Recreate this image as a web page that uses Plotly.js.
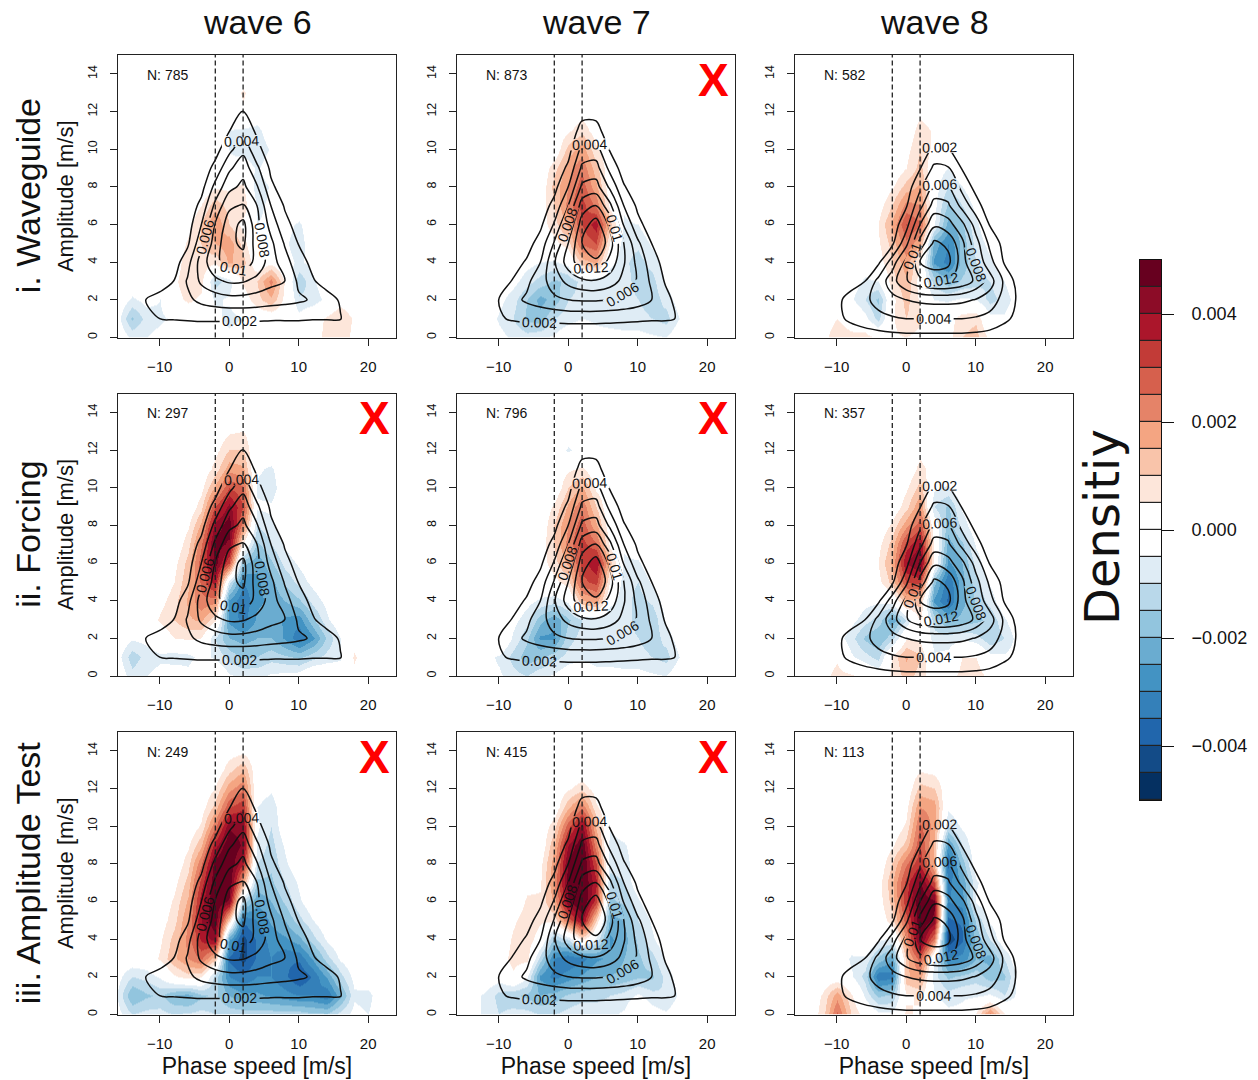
<!DOCTYPE html>
<html><head><meta charset="utf-8">
<script src="https://cdn.plot.ly/plotly-3.0.1.min.js"></script>
<style>html,body{margin:0;padding:0;background:#fff;}#chart{width:1258px;height:1080px;}</style>
</head><body><div id="chart"></div>
<script>
// ---- grid (phase speed, amplitude) ----
const xGrid = [-16,-14,-12,-10,-8,-6,-4,-2,0,2,4,6,8,10,12,14,16,18,20,22];
const yGrid = [0,1,2,3,4,5,6,7,8,9,10,11,12,13,14];
const UNIT = 0.001; // all grids below are in units of 0.001

const waveTitles = ['wave 6','wave 7','wave 8'];
const rowTitles = ['i. Waveguide','ii. Forcing','iii. Amplitude Test'];
const nCounts = [[785,873,582],[297,796,357],[249,415,113]];
const rejected = [[false,true,false],[true,true,false],[true,true,false]];
const dashedSpeeds = [-2, 2];
const contourStart = 0.002, contourEnd = 0.016, contourStep = 0.002;
const colorEdges = [-0.005,-0.0045,-0.004,-0.0035,-0.003,-0.0025,-0.002,-0.0015,-0.001,-0.0005,0,0.0005,0.001,0.0015,0.002,0.0025,0.003,0.0035,0.004,0.0045,0.005];
const binColors = ['#053061','#134b87','#2166ac','#3480b9','#4393c3','#6aacd0','#92c5de','#b9d8ea','#dfecf5','#ffffff',
                   '#ffffff','#fde6da','#f9c4aa','#f4a582','#e58368','#d6604d','#c23b37','#ab162b','#8c0c27','#67001f'];
const colorbarTicks = [-0.004,-0.002,0,0.002,0.004];

// ---- climatological density (black contours), per wave ----
const densityW6 = [
[0,0,0.2,0.3,0.3,0.3,0.3,0.3,0.3,0.3,0.3,0.3,0.3,0.3,0.3,0.3,0.3,0.1,0,0],
[0,0.5,1.9,2.0,2.1,2.2,2.3,2.3,2.3,2.3,2.3,2.2,2.2,2.2,2.1,2.1,2.1,0.6,0.1,0],
[0,0.6,2.0,2.5,3.0,3.6,4.5,5.0,5.3,5.3,5.1,4.8,4.6,4.3,3.8,2.8,1.8,0.5,0.1,0],
[0,0.2,0.7,1.3,2.0,4.2,6.4,7.6,8.3,8.2,7.4,6.6,6.0,3.6,2.2,1.2,0.6,0.2,0,0],
[0,0.1,0.3,0.7,1.0,3.2,7.0,9.5,10.9,11.2,9.4,7.0,4.8,2.8,1.5,0.7,0.3,0,0,0],
[0,0,0.1,0.3,0.7,1.6,5.4,9.0,11.5,12.4,9.0,6.5,3.8,1.9,0.9,0.4,0.1,0,0,0],
[0,0,0,0.1,0.4,1.0,4.0,8.2,11.0,12.6,8.6,5.2,2.6,1.2,0.5,0.2,0,0,0,0],
[0,0,0,0,0.2,0.6,2.6,6.5,9.6,10.2,8.0,4.0,1.8,0.8,0.3,0.1,0,0,0,0],
[0,0,0,0,0.1,0.4,1.3,4.6,7.4,8.5,6.2,2.4,1.0,0.4,0.1,0,0,0,0,0],
[0,0,0,0,0,0.2,0.7,2.6,5.6,7.2,4.4,1.6,0.6,0.2,0,0,0,0,0,0],
[0,0,0,0,0,0.1,0.3,1.2,3.4,5.4,2.6,0.8,0.3,0.1,0,0,0,0,0,0],
[0,0,0,0,0,0,0.1,0.5,1.9,3.4,1.6,0.4,0.1,0,0,0,0,0,0,0],
[0,0,0,0,0,0,0,0.2,1.0,2.1,0.8,0.2,0,0,0,0,0,0,0,0],
[0,0,0,0,0,0,0,0,0.3,0.8,0.3,0,0,0,0,0,0,0,0,0],
[0,0,0,0,0,0,0,0,0.1,0.2,0.1,0,0,0,0,0,0,0,0,0]];
const densityW7 = [
[0,0,0.1,0.3,0.4,0.4,0.4,0.4,0.4,0.4,0.4,0.4,0.4,0.4,0.4,0.4,0.3,0.1,0,0],
[0,0,0.3,1.8,2.2,2.4,2.4,2.5,2.6,2.6,2.6,2.5,2.4,2.3,2.2,2.2,1.9,0.5,0,0],
[0,0,0.3,2.0,3.4,4.3,5.0,5.6,6.0,6.2,6.2,6.0,5.6,5.0,4.0,2.6,1.2,0.3,0,0],
[0,0,0.1,0.9,2.1,3.5,5.2,7.0,8.6,9.6,9.8,9.0,7.4,5.8,3.6,1.8,0.6,0.1,0,0],
[0,0,0,0.4,1.2,2.2,4.0,7.8,11.0,13.2,13.5,11.4,8.2,5.4,3.0,1.2,0.3,0,0,0],
[0,0,0,0.1,0.5,1.2,2.8,6.2,10.0,14.0,16.0,13.0,8.0,4.4,2.0,0.7,0.1,0,0,0],
[0,0,0,0,0.2,0.6,1.6,4.2,8.2,13.0,15.0,11.5,5.8,2.6,1.0,0.4,0,0,0,0],
[0,0,0,0,0,0.3,0.9,2.6,6.0,11.0,12.0,8.5,4.0,1.6,0.5,0.1,0,0,0,0],
[0,0,0,0,0,0.1,0.4,1.4,4.0,8.4,8.8,5.6,2.2,0.7,0.2,0,0,0,0,0],
[0,0,0,0,0,0,0.1,0.6,2.4,6.4,6.8,3.4,1.0,0.3,0,0,0,0,0,0],
[0,0,0,0,0,0,0,0.2,1.2,4.6,4.8,1.8,0.4,0,0,0,0,0,0,0],
[0,0,0,0,0,0,0,0,0.5,2.8,2.8,0.6,0,0,0,0,0,0,0,0],
[0,0,0,0,0,0,0,0,0.1,1.2,1.2,0.2,0,0,0,0,0,0,0,0],
[0,0,0,0,0,0,0,0,0,0.3,0.3,0,0,0,0,0,0,0,0,0],
[0,0,0,0,0,0,0,0,0,0,0,0,0,0,0,0,0,0,0,0]];
const densityW8 = [
[0,0,0.1,0.3,0.6,0.9,1.1,1.3,1.4,1.4,1.4,1.4,1.4,1.3,1.1,0.7,0.3,0.1,0,0],
[0,0,0.4,1.5,2.4,3.0,3.5,3.8,4.0,4.0,4.0,4.0,4.0,3.8,3.4,2.5,1.5,0.3,0,0],
[0,0,0.4,1.6,2.6,3.6,4.6,5.4,6.0,6.4,6.6,6.6,6.4,5.9,5.0,3.4,1.8,0.3,0,0],
[0,0,0.1,0.6,1.3,1.9,4.6,7.2,9.8,11.5,12.2,12.2,11.4,9.6,7.0,3.8,1.3,0.2,0,0],
[0,0,0,0.2,0.5,1.0,1.6,5.0,8.6,14.0,15.2,14.6,11.0,7.6,4.8,2.0,0.6,0.1,0,0],
[0,0,0,0,0.1,0.3,0.8,1.6,5.4,10.8,14.4,13.6,10.6,6.8,3.6,1.4,0.3,0,0,0],
[0,0,0,0,0,0.1,0.4,1.0,3.2,8.0,11.6,10.8,8.6,5.2,1.9,0.5,0.1,0,0,0],
[0,0,0,0,0,0,0.1,0.5,1.8,5.4,8.8,8.4,5.4,2.8,0.8,0.2,0,0,0,0],
[0,0,0,0,0,0,0,0.2,0.9,3.6,6.6,6.4,3.4,1.4,0.3,0,0,0,0,0],
[0,0,0,0,0,0,0,0,0.4,1.9,4.4,4.2,1.9,0.5,0,0,0,0,0,0],
[0,0,0,0,0,0,0,0,0,0.8,2.4,2.2,0.7,0,0,0,0,0,0,0],
[0,0,0,0,0,0,0,0,0,0.2,0.9,0.8,0.2,0,0,0,0,0,0,0],
[0,0,0,0,0,0,0,0,0,0,0.2,0.2,0,0,0,0,0,0,0,0],
[0,0,0,0,0,0,0,0,0,0,0,0,0,0,0,0,0,0,0,0],
[0,0,0,0,0,0,0,0,0,0,0,0,0,0,0,0,0,0,0,0]];

// ---- density differences (shading) ----
const diffWaveguideW6 = [
[0,-0.6,-0.5,-0.3,0,0,0,0,-0.3,0,0,0,0,0,0.2,0.7,0.9,0.3,0,0],
[-0.3,-1.6,-0.8,-0.6,-0.4,0,0.2,-0.3,-0.7,-0.5,0,0,0,-0.3,0.2,0.6,1.0,0.4,0,0],
[0,-0.6,-0.3,-0.5,0.3,0.6,0.4,-0.6,-0.4,0.2,0.8,1.4,0.3,-0.9,-0.8,-0.3,0.2,0,0,0],
[0,0,0,0,0.4,0.8,0.7,-1.2,-0.8,0.6,1.0,2.2,0.4,-1.4,-0.6,0,0,0,0,0],
[0,0,0,0,0.2,0.8,0.9,0.6,1.6,1.2,0,0.3,-0.3,-0.6,-0.3,0,0,0,0,0],
[0,0,0,0,0,0.6,1.0,1.5,1.8,0.8,-0.4,-0.3,-0.4,-0.8,0,0,0,0,0,0],
[0,0,0,0,0,0.3,1.0,2.0,1.0,0.3,-0.5,-0.4,-0.3,-0.6,0,0,0,0,0,0],
[0,0,0,0,0,0,0.5,1.3,0.8,0.9,-0.6,-0.4,0,0,0,0,0,0,0,0],
[0,0,0,0,0,0,0,0.4,0.4,0.6,-0.9,-0.4,0,0,0,0,0,0,0,0],
[0,0,0,0,0,0,0,0,-0.4,0,-0.6,0,0,0,0,0,0,0,0,0],
[0,0,0,0,0,0,0,0,-0.5,-0.8,-1.0,-0.4,0,0,0,0,0,0,0,0],
[0,0,0,0,0,0,0,0,-0.5,-0.6,-0.7,0,0,0,0,0,0,0,0,0],
[0,0,0,0,0,0,0,0,0,0.4,0,0,0,0,0,0,0,0,0,0],
[0,0,0,0,0,0,0,0,0,0.6,0,0,0,0,0,0,0,0,0,0],
[0,0,0,0,0,0,0,0,0,0,0,0,0,0,0,0,0,0,0,0]];
const diffWaveguideW7 = [
[0,0,0,-0.3,-0.6,-0.8,-0.6,-0.4,0,0,-0.3,-0.3,-0.3,-0.3,-0.4,-0.5,0,0,0,0],
[0,0,0,-0.6,-1.0,-1.6,-1.8,-1.0,-0.7,-0.5,-0.6,-0.7,-0.8,-0.8,-1.0,-1.2,-0.5,0,0,0],
[0,0,0,-0.3,-0.8,-1.5,-2.2,-1.8,-1.0,-0.8,-1.0,-1.0,-0.8,-1.0,-1.3,-0.8,-0.2,0,0,0],
[0,0,0,0,-0.3,-0.8,-1.2,-1.6,-1.4,-0.8,-0.9,-1.0,-0.8,-1.2,-1.2,-0.4,0,0,0,0],
[0,0,0,0,0,-0.3,-0.5,-0.6,-0.3,1.2,1.6,-0.3,-0.9,-1.2,-0.8,-0.2,0,0,0,0],
[0,0,0,0,0,0,0,0.3,0.8,2.6,3.0,0.4,-0.8,-0.9,-0.4,0,0,0,0,0],
[0,0,0,0,0,0,0.2,0.8,1.6,3.0,3.8,1.2,-0.6,-0.5,0,0,0,0,0,0],
[0,0,0,0,0,0,0.2,1.0,2.2,3.2,2.4,0.3,-0.4,0,0,0,0,0,0,0],
[0,0,0,0,0,0,0,1.2,2.0,2.8,1.6,0,0,0,0,0,0,0,0,0],
[0,0,0,0,0,0,0,0.8,1.8,2.4,1.2,0,0,0,0,0,0,0,0,0],
[0,0,0,0,0,0,0,0,1.2,1.8,0.6,0,0,0,0,0,0,0,0,0],
[0,0,0,0,0,0,0,0,0.4,0.8,0.2,0,0,0,0,0,0,0,0,0],
[0,0,0,0,0,0,0,0,0,0.3,0,0,0,0,0,0,0,0,0,0],
[0,0,0,0,0,0,0,0,0,0,0,0,0,0,0,0,0,0,0,0],
[0,0,0,0,0,0,0,0,0,0,0,0,0,0,0,0,0,0,0,0]];
const diffWaveguideW8 = [
[0,0,0.4,0.7,0.6,0.8,0.3,0.4,0.5,0.3,0,0.3,1.0,1.2,0.3,0,0,0,0,0],
[0,0,0.3,0.5,0.3,-0.3,-1.2,0.4,1.0,0.6,0,0.2,0.8,0.9,-0.3,-0.4,0,0,0,0],
[0,0,0,0,-0.4,-1.0,-1.6,0.3,1.2,0.4,-0.5,-0.6,-0.4,-0.5,-1.2,-0.8,-0.2,0,0,0],
[0,0,0,0,-0.2,-0.6,-0.5,0.8,1.4,0.2,-1.2,-1.8,-1.4,-1.2,-1.0,-0.5,0,0,0,0],
[0,0,0,0,0,-0.2,0.2,1.0,1.8,0.4,-2.6,-3.2,-1.8,-1.0,-0.6,0,0,0,0,0],
[0,0,0,0,0,0,0.4,1.2,2.4,1.6,-2.2,-3.0,-1.8,-0.8,-0.3,0,0,0,0,0],
[0,0,0,0,0,0,0.5,1.6,3.0,2.6,-0.4,-2.2,-1.6,-0.6,0,0,0,0,0,0],
[0,0,0,0,0,0,0.2,1.0,2.2,2.0,-0.3,-1.6,-1.0,-0.3,0,0,0,0,0,0],
[0,0,0,0,0,0,0,0.4,1.2,1.6,-0.2,-1.0,-0.5,0,0,0,0,0,0,0],
[0,0,0,0,0,0,0,0,0.5,1.2,-0.2,-0.5,0,0,0,0,0,0,0,0],
[0,0,0,0,0,0,0,0,0.3,1.0,0.3,0,0,0,0,0,0,0,0,0],
[0,0,0,0,0,0,0,0,0,0.8,0.4,0,0,0,0,0,0,0,0,0],
[0,0,0,0,0,0,0,0,0,0.3,0,0,0,0,0,0,0,0,0,0],
[0,0,0,0,0,0,0,0,0,0,0,0,0,0,0,0,0,0,0,0],
[0,0,0,0,0,0,0,0,0,0,0,0,0,0,0,0,0,0,0,0]];
const diffForcingW6 = [
[0,-0.8,-0.5,-0.3,0,-0.3,0.2,0.4,-0.4,-0.6,-0.6,-0.4,-0.3,-0.2,0.4,0.2,0,0.3,0,0],
[-0.3,-1.3,-0.8,-0.6,-0.8,-0.7,-0.3,-0.6,-1.2,-1.6,-1.5,-1.2,-1.4,-1.6,-1.2,-0.8,-0.6,0.6,0,0],
[0,-0.4,-0.3,0,0.5,0.6,0.5,-1.0,-2.0,-2.2,-2.0,-2.0,-2.6,-3.4,-2.6,-1.4,-0.5,0.2,0,0],
[0,0,0,0.6,1.0,1.4,1.6,0.6,-2.6,-3.2,-2.4,-2.2,-2.6,-2.8,-1.6,-0.6,0,0,0,0],
[0,0,0,0.3,0.8,1.6,2.4,2.2,-2.6,-3.4,-2.6,-2.4,-2.0,-1.6,-0.8,-0.3,0,0,0,0],
[0,0,0,0,0.5,1.4,2.6,3.8,-0.8,-3.0,-2.6,-2.2,-1.4,-0.8,-0.3,0,0,0,0,0],
[0,0,0,0,0.3,1.2,2.8,4.8,3.0,-1.8,-2.4,-1.6,-0.8,-0.4,0,0,0,0,0,0],
[0,0,0,0,0,0.8,2.4,4.8,4.4,0.4,-1.6,-1.0,-0.4,0,0,0,0,0,0,0],
[0,0,0,0,0,0.4,1.6,4.2,4.8,2.2,-1.0,-0.6,0,0,0,0,0,0,0,0],
[0,0,0,0,0,0,0.8,3.0,4.2,3.0,-0.4,-0.4,0,0,0,0,0,0,0,0],
[0,0,0,0,0,0,0.3,1.6,3.0,2.6,-0.6,-0.8,0,0,0,0,0,0,0,0],
[0,0,0,0,0,0,0,0.7,1.8,1.6,-0.4,-0.6,0,0,0,0,0,0,0,0],
[0,0,0,0,0,0,0,0.3,1.0,1.0,-0.2,0,0,0,0,0,0,0,0,0],
[0,0,0,0,0,0,0,0,0.4,0.5,0,0,0,0,0,0,0,0,0,0],
[0,0,0,0,0,0,0,0,0,0,0,0,0,0,0,0,0,0,0,0]];
const diffForcingW7 = [
[0,0,-0.3,-0.4,-0.8,-1.0,-0.6,-0.4,0,0,-0.3,-0.3,-0.3,-0.3,-0.4,-0.5,0,0,0,0],
[0,0,-0.3,-0.6,-1.2,-1.8,-1.6,-1.2,-0.8,-0.6,-0.7,-0.7,-0.8,-0.8,-1.0,-1.2,-0.5,0,0,0],
[0,0,0,0.4,-0.6,-1.4,-2.6,-2.6,-1.2,-0.8,-1.0,-1.0,-0.8,-1.0,-1.3,-0.8,-0.2,0,0,0],
[0,0,0,0,-0.3,-0.8,-1.8,-2.4,-1.6,-1.0,-0.9,-1.0,-0.8,-1.2,-1.4,-0.4,0,0,0,0],
[0,0,0,0,0,-0.3,-0.6,-0.8,-0.4,1.4,1.8,-0.3,-0.8,-1.2,-0.9,-0.2,0,0,0,0],
[0,0,0,0,0,0,0,0.3,0.8,2.8,3.2,0.4,-0.8,-1.0,-0.4,0,0,0,0,0],
[0,0,0,0,0,0,0.2,0.8,1.6,3.2,4.0,1.2,-0.6,-0.6,0,0,0,0,0,0],
[0,0,0,0,0,0,0.2,1.0,2.2,3.2,2.6,0.3,-0.4,0,0,0,0,0,0,0],
[0,0,0,0,0,0,0,1.0,2.0,2.8,1.6,0,0,0,0,0,0,0,0,0],
[0,0,0,0,0,0,0,0.6,1.6,2.4,1.0,0,0,0,0,0,0,0,0,0],
[0,0,0,0,0,0,0,0,1.0,1.6,0.4,0,0,0,0,0,0,0,0,0],
[0,0,0,0,0,0,0,0,0.4,0.6,0,0,0,0,0,0,0,0,0,0],
[0,0,0,0,0,0,0,0,-0.6,-0.2,0,0,0,0,0,0,0,0,0,0],
[0,0,0,0,0,0,0,0,0,0,0,0,0,0,0,0,0,0,0,0],
[0,0,0,0,0,0,0,0,0,0,0,0,0,0,0,0,0,0,0,0]];
const diffForcingW8 = [
[0,0,0.3,0.7,0.6,0.3,0,0.6,1.2,0.8,0,0.2,0.7,0.8,0.3,0,0,0,0,0],
[0,0,0.2,0.4,-0.4,-0.8,-1.2,0.6,1.6,1.0,-0.4,-0.3,0.5,0.5,-0.3,-0.4,-0.2,0,0,0],
[0,0,0,-0.2,-0.8,-1.6,-2.0,-1.2,0.4,0.4,-0.8,-0.8,-0.6,-0.8,-1.4,-1.0,-0.3,0,0,0],
[0,0,0,0,-0.3,-0.8,-1.2,-2.4,-1.0,0.6,-1.2,-2.0,-1.8,-1.6,-1.4,-0.6,0,0,0,0],
[0,0,0,0,0,-0.3,-0.4,-0.2,1.4,1.2,-2.6,-3.6,-2.2,-1.4,-0.8,0,0,0,0,0],
[0,0,0,0,0,0,0.3,1.2,3.0,3.2,-1.8,-3.4,-2.2,-1.2,-0.4,0,0,0,0,0],
[0,0,0,0,0,0,0.5,1.6,4.0,4.6,0.2,-2.6,-2.0,-0.8,0,0,0,0,0,0],
[0,0,0,0,0,0,0.3,1.2,3.2,4.0,0.4,-2.2,-1.6,-0.4,0,0,0,0,0,0],
[0,0,0,0,0,0,0,0.6,1.8,2.8,0,-1.8,-0.8,0,0,0,0,0,0,0],
[0,0,0,0,0,0,0,0,0.8,2.0,-1.0,-1.6,-0.4,0,0,0,0,0,0,0],
[0,0,0,0,0,0,0,0,0.4,1.2,-0.4,-0.6,0,0,0,0,0,0,0,0],
[0,0,0,0,0,0,0,0,0,0.7,0.2,0,0,0,0,0,0,0,0,0],
[0,0,0,0,0,0,0,0,0,0.3,0,0,0,0,0,0,0,0,0,0],
[0,0,0,0,0,0,0,0,0,0,0,0,0,0,0,0,0,0,0,0],
[0,0,0,0,0,0,0,0,0,0,0,0,0,0,0,0,0,0,0,0]];
const diffAmplitudeW6 = [
[-0.3,-1.0,-0.8,-0.8,-1.0,-0.9,-0.8,-1.0,-1.2,-1.2,-1.2,-1.2,-1.2,-1.2,-1.4,-1.4,-0.8,-0.3,-0.5,0],
[-0.6,-2.0,-1.6,-1.4,-2.0,-2.2,-1.6,-1.4,-2.0,-2.4,-2.4,-2.6,-2.8,-3.0,-3.0,-3.4,-2.2,-0.6,-0.7,0],
[-0.3,-1.0,-0.8,-0.4,0.4,0.8,0.6,-1.2,-3.0,-3.4,-3.0,-3.0,-3.4,-4.0,-3.4,-2.4,-1.2,-0.3,0,0],
[0,0,0,0.6,1.4,2.0,2.6,1.2,-3.6,-4.2,-3.4,-3.0,-3.4,-3.4,-2.4,-1.2,-0.4,0,0,0],
[0,0,0,0.4,1.2,2.2,3.6,4.2,-2.4,-4.2,-3.4,-2.8,-2.6,-2.2,-1.2,-0.4,0,0,0,0],
[0,0,0,0.2,0.8,2.0,4.0,5.0,1.0,-3.4,-3.0,-2.4,-2.0,-1.2,-0.5,0,0,0,0,0],
[0,0,0,0,0.6,1.6,3.8,5.0,4.4,-1.2,-2.4,-2.0,-1.4,-0.6,0,0,0,0,0,0],
[0,0,0,0,0.3,1.2,3.2,5.0,5.0,1.6,-1.6,-1.6,-1.0,-0.4,0,0,0,0,0,0],
[0,0,0,0,0,0.8,2.4,4.8,5.0,3.6,-1.0,-1.4,-0.6,0,0,0,0,0,0,0],
[0,0,0,0,0,0.4,1.4,3.8,5.0,4.4,-0.6,-1.2,-0.4,0,0,0,0,0,0,0],
[0,0,0,0,0,0,0.6,2.4,4.4,4.2,-0.4,-1.0,0,0,0,0,0,0,0,0],
[0,0,0,0,0,0,0.2,1.2,3.0,3.4,-0.5,-0.8,0,0,0,0,0,0,0,0],
[0,0,0,0,0,0,0,0.5,1.8,2.4,-0.2,-0.4,0,0,0,0,0,0,0,0],
[0,0,0,0,0,0,0,0,0.8,1.4,0,0,0,0,0,0,0,0,0,0],
[0,0,0,0,0,0,0,0,0.2,0.3,0,0,0,0,0,0,0,0,0,0]];
const diffAmplitudeW7 = [
[0,-0.3,-0.6,-1.0,-0.8,-0.8,-1.0,-1.0,-0.8,-0.6,-0.6,-0.6,-0.4,0.4,-0.2,-0.4,0,0,0,0],
[0,-0.3,-0.6,-1.2,-1.4,-1.6,-2.0,-1.8,-1.4,-1.2,-1.2,-1.0,-0.8,-0.4,-0.8,-1.0,-0.4,0,0,0],
[0,0,0,-0.2,0.4,-0.4,-2.6,-3.2,-2.8,-2.4,-2.0,-2.0,-1.8,-1.6,-1.6,-0.8,-0.2,0,0,0],
[0,0,0,0.2,0.7,0.7,-1.2,-3.0,-3.4,-3.2,-2.6,-2.4,-2.0,-1.6,-1.2,-0.4,0,0,0,0],
[0,0,0,0,0.6,0.8,0.2,-1.6,-1.0,0.6,-0.6,-2.6,-2.2,-1.4,-0.6,0,0,0,0,0],
[0,0,0,0,0.4,0.8,0.6,0.6,2.6,4.2,1.0,-2.2,-2.0,-1.0,-0.4,0,0,0,0,0],
[0,0,0,0,0,0.6,0.6,1.6,4.4,5.2,3.2,-1.6,-1.4,-0.6,0,0,0,0,0,0],
[0,0,0,0,0,0.3,0.4,2.0,4.8,5.2,3.6,-1.2,-1.0,0,0,0,0,0,0,0],
[0,0,0,0,0,0,0.3,1.8,4.6,5.2,3.0,-0.8,-0.8,0,0,0,0,0,0,0],
[0,0,0,0,0,0,0,1.4,4.0,5.0,2.2,-0.8,-0.6,0,0,0,0,0,0,0],
[0,0,0,0,0,0,0,0.8,2.8,4.2,1.4,-0.4,0,0,0,0,0,0,0,0],
[0,0,0,0,0,0,0,0,1.4,2.4,0.6,0,0,0,0,0,0,0,0,0],
[0,0,0,0,0,0,0,0,0.4,0.8,0.2,0,0,0,0,0,0,0,0,0],
[0,0,0,0,0,0,0,0,0,0,0,0,0,0,0,0,0,0,0,0],
[0,0,0,0,0,0,0,0,0,0,0,0,0,0,0,0,0,0,0,0]];
const diffAmplitudeW8 = [
[0,0,0.8,2.6,1.0,0.2,-0.3,-0.4,0.6,0.4,0,-0.3,-0.3,0.6,2.2,0.6,0,0,0,0],
[0,0,0.6,1.8,0.6,-0.6,-1.6,-1.4,0.4,0.6,-0.4,-0.8,-0.6,-0.6,-0.4,-1.0,-0.4,0,0,0],
[0,0,0,0,-0.4,-1.2,-3.4,-3.2,1.4,1.8,-0.8,-1.6,-1.4,-1.2,-1.8,-1.6,-0.4,0,0,0],
[0,0,0,0,-0.6,-0.6,-1.6,-2.4,1.2,2.8,-0.4,-3.0,-2.8,-2.0,-2.2,-1.0,0,0,0,0],
[0,0,0,0,0,0.3,-0.4,-0.6,2.0,4.8,2.4,-4.4,-3.6,-1.8,-1.0,0,0,0,0,0],
[0,0,0,0,0,0,0,0.8,2.8,5.0,4.4,-3.6,-3.4,-1.4,-0.4,0,0,0,0,0],
[0,0,0,0,0,0,0.2,1.2,3.4,5.0,4.6,-3.0,-2.8,-0.4,0,0,0,0,0,0],
[0,0,0,0,0,0,0.2,1.4,3.2,4.6,3.0,-3.2,-2.4,-0.6,0,0,0,0,0,0],
[0,0,0,0,0,0,0,1.0,2.4,3.4,1.4,-3.6,-1.8,0,0,0,0,0,0,0],
[0,0,0,0,0,0,0,0.4,1.2,3.0,1.4,-2.6,-1.0,0,0,0,0,0,0,0],
[0,0,0,0,0,0,0,0,0.6,2.6,1.8,-1.0,-0.4,0,0,0,0,0,0,0],
[0,0,0,0,0,0,0,0,0.3,2.0,1.8,-0.4,0,0,0,0,0,0,0,0],
[0,0,0,0,0,0,0,0,0,1.2,1.0,0,0,0,0,0,0,0,0,0],
[0,0,0,0,0,0,0,0,0,0.4,0.3,0,0,0,0,0,0,0,0,0],
[0,0,0,0,0,0,0,0,0,0,0,0,0,0,0,0,0,0,0,0]];

const densities = [densityW6, densityW7, densityW8];
const diffs = [[diffWaveguideW6, diffWaveguideW7, diffWaveguideW8],
               [diffForcingW6, diffForcingW7, diffForcingW8],
               [diffAmplitudeW6, diffAmplitudeW7, diffAmplitudeW8]];

// ---- geometry (pixels) ----
const W = 1258, H = 1080;
const colPx = [[118,396],[457,735],[795,1073]];
const rowPx = [[55,337.5],[393.5,676],[732,1014.5]];
const FONT = 'Liberation Sans, Arial, Helvetica, sans-serif';

const scale = m => m.map(r => r.map(v => v * UNIT));
const cs = [];
binColors.forEach((c, i) => { cs.push([i / binColors.length, c]); cs.push([(i + 1) / binColors.length, c]); });
const zmin = colorEdges[0], zmax = colorEdges[colorEdges.length - 1];

const traces = [];
const layout = {
  width: W, height: H, margin: {l:0, r:0, t:0, b:0},
  paper_bgcolor: '#fff', plot_bgcolor: 'rgba(0,0,0,0)',
  font: {family: FONT, color: '#111'},
  showlegend: false, annotations: [], shapes: []
};

for (let r = 0; r < 3; r++) {
  for (let c = 0; c < 3; c++) {
    const k = r * 3 + c + 1;
    const xa = k === 1 ? 'x' : 'x' + k, ya = k === 1 ? 'y' : 'y' + k;
    traces.push({type: 'heatmap', x: xGrid, y: yGrid, z: scale(diffs[r][c]), xaxis: xa, yaxis: ya,
      zmin: zmin, zmax: zmax, colorscale: cs, zsmooth: 'best', showscale: false, hoverinfo: 'skip'});
    traces.push({type: 'contour', x: xGrid, y: yGrid, z: scale(densities[c]), xaxis: xa, yaxis: ya,
      contours: {start: contourStart, end: contourEnd, size: contourStep, coloring: 'none', showlabels: true,
                 labelfont: {size: 14, color: '#111', family: FONT}, labelformat: '.3~f'},
      line: {color: '#111', width: 1.5, smoothing: 1}, showscale: false, hoverinfo: 'skip'});
    const xax = {
      domain: [colPx[c][0] / W, colPx[c][1] / W], range: [-16, 24], anchor: ya,
      tickvals: [-10, 0, 10, 20], ticks: 'outside', ticklen: 7, tickwidth: 1, tickcolor: '#222',
      showline: true, mirror: true, linecolor: '#222', linewidth: 1, showgrid: false, zeroline: false,
      tickfont: {size: 15, family: FONT, color: '#111'}, ticklabelstandoff: 8, fixedrange: true
    };
    if (r === 2) xax.title = {text: 'Phase speed [m/s]', font: {size: 23, family: FONT, color: '#111'}, standoff: 7};
    const yax = {
      domain: [1 - rowPx[r][1] / H, 1 - rowPx[r][0] / H], range: [0, 15], anchor: xa,
      tickvals: [0, 2, 4, 6, 8, 10, 12, 14], tickangle: -90, ticks: 'outside', ticklen: 7, tickwidth: 1, tickcolor: '#222',
      showline: true, mirror: true, linecolor: '#222', linewidth: 1, showgrid: false, zeroline: false,
      tickfont: {size: 12.5, family: FONT, color: '#111'}, ticklabelstandoff: 8, fixedrange: true
    };
    if (c === 0) yax.title = {text: 'Amplitude [m/s]', font: {size: 22, family: FONT, color: '#111'}, standoff: 6};
    layout['xaxis' + (k === 1 ? '' : k)] = xax;
    layout['yaxis' + (k === 1 ? '' : k)] = yax;

    dashedSpeeds.forEach(v => layout.shapes.push({type: 'line', xref: xa, yref: ya + ' domain', x0: v, x1: v, y0: 0, y1: 1,
      line: {color: '#222', width: 1.3, dash: '5px,3px'}}));

    layout.annotations.push({xref: xa + ' domain', yref: ya + ' domain', x: 0.097, y: 0.93, xanchor: 'left', yanchor: 'middle',
      text: 'N: ' + nCounts[r][c], showarrow: false, font: {size: 14, family: FONT, color: '#111'}});
    if (rejected[r][c]) layout.annotations.push({xref: xa + ' domain', yref: ya + ' domain', x: 0.921, y: 0.912,
      xanchor: 'center', yanchor: 'middle', text: '<b>X</b>', showarrow: false, font: {size: 46, family: FONT, color: '#ff0000'}});
  }
}

// column and row titles
waveTitles.forEach((t, c) => layout.annotations.push({xref: 'paper', yref: 'paper', x: (colPx[c][0] + colPx[c][1]) / 2 / W,
  y: 1 - 22 / H, text: t, showarrow: false, xanchor: 'center', yanchor: 'middle', font: {size: 34, family: FONT, color: '#111'}}));
rowTitles.forEach((t, r) => layout.annotations.push({xref: 'paper', yref: 'paper', x: 28 / W,
  y: 1 - (rowPx[r][0] + rowPx[r][1]) / 2 / H, text: t, textangle: -90, showarrow: false, xanchor: 'center', yanchor: 'middle',
  font: {size: 34, family: FONT, color: '#111'}}));
layout.annotations.push({xref: 'paper', yref: 'paper', x: 1102 / W, y: 1 - 527 / H, text: 'Densitiy', textangle: -90,
  showarrow: false, xanchor: 'center', yanchor: 'middle', font: {size: 48, family: 'DejaVu Sans, sans-serif', color: '#111'}});

// colour bar drawn as a one-column heatmap of the colour bins
const binCenters = colorEdges.slice(0, -1).map((e, i) => (e + colorEdges[i + 1]) / 2);
traces.push({type: 'heatmap', x: [0], y: binCenters, z: binCenters.map(v => [v]), xaxis: 'x10', yaxis: 'y10',
  zmin: zmin, zmax: zmax, colorscale: cs, showscale: false, ygap: 1.2, hoverinfo: 'skip'});
layout.xaxis10 = {domain: [1140 / W, 1161 / W], range: [-0.5, 0.5], anchor: 'y10', showticklabels: false, ticks: '',
  showline: true, mirror: true, linecolor: '#111', linewidth: 1, showgrid: false, zeroline: false, fixedrange: true};
layout.yaxis10 = {domain: [1 - 800 / H, 1 - 260 / H], range: [zmin, zmax], anchor: 'x10', side: 'right',
  tickvals: colorbarTicks, tickformat: '.3f', ticks: 'outside', ticklen: 12, tickwidth: 1, tickcolor: '#111',
  showline: true, mirror: true, linecolor: '#111', linewidth: 1, showgrid: false, zeroline: false,
  tickfont: {size: 18, family: FONT, color: '#111'}, ticklabelstandoff: 14, fixedrange: true};
layout.shapes.push({type: 'rect', xref: 'x10', yref: 'y10', x0: -0.5, x1: 0.5, y0: zmin, y1: zmax,
  fillcolor: '#222', line: {width: 0}, layer: 'below'});

Plotly.newPlot('chart', traces, layout, {staticPlot: true, displayModeBar: false});
</script></body></html>
